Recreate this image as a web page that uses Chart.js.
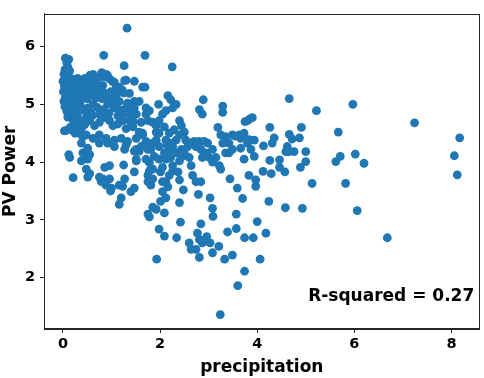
<!DOCTYPE html>
<html>
<head>
<meta charset="utf-8">
<script src="https://cdn.jsdelivr.net/npm/chart.js@4/dist/chart.umd.min.js"></script>
<style>
  html, body { margin: 0; padding: 0; background: #ffffff; }
  #wrap { width: 484px; height: 378px; }
</style>
</head>
<body>
<div id="wrap"><canvas id="c" width="484" height="378"></canvas></div>
<script>
const xTicks = [0, 2, 4, 6, 8];
const yTicks = [2, 3, 4, 5, 6];
const xTitle = 'precipitation';
const yTitle = 'PV Power';
const rSquaredLabel = 'R-squared = 0.27';

const precipitation = [
  1.32,0.84,1.69,1.26,2.25,4.66,5.97,5.22,7.24,8.17,
  8.06,8.12,5.67,5.71,5.62,6.02,6.20,5.82,6.06,6.68,
  5.13,4.93,4.58,4.91,5.00,5.00,4.89,4.87,4.66,4.72,
  4.62,4.59,4.76,4.65,4.46,4.46,4.57,4.26,4.35,4.31,
  4.13,4.26,4.29,4.12,4.24,4.18,4.06,4.00,3.74,3.60,
  3.24,3.49,3.92,3.74,3.57,3.57,3.70,3.59,3.44,3.39,
  3.33,3.08,3.21,3.03,3.08,3.09,3.03,2.96,2.87,2.84,
  2.77,2.81,2.74,2.81,2.60,2.64,2.79,2.84,2.74,2.67,
  2.64,2.40,2.42,2.34,2.09,1.98,1.93,1.78,1.75,1.85,
  1.92,2.09,2.01,2.12,2.05,2.16,2.12,2.05,2.40,2.48,
  2.37,2.26,2.19,2.01,1.85,1.81,1.75,1.85,1.78,1.71,
  1.51,1.47,1.40,1.47,1.27,1.23,1.16,1.20,1.16,1.25,
  0.96,0.86,0.96,0.89,0.82,0.79,0.75,0.55,0.51,0.48,
  0.38,0.41,0.51,0.55,0.51,0.21,0.14,0.12,0.38,0.41,
  0.07,0.03,0.75,0.92,1.06,1.27,1.30,1.47,1.51,1.57,
  0.98,1.00,
  0.05,0.12,0.08,0.10,0.04,0.14,0.02,0.09,0.16,0.00,
  0.06,0.12,0.20,0.03,0.10,0.18,0.25,0.01,0.07,0.14,
  0.22,0.05,0.12,0.20,0.28,0.02,0.09,0.17,0.24,0.04,
  0.12,0.20,0.28,0.08,0.16,0.25,0.10,0.20,0.30,0.15,
  0.22,0.32,0.30,0.35,0.32,0.38,0.35,0.40,0.30,0.38,
  0.45,
  0.55,0.62,0.70,0.80,0.85,0.92,1.02,0.50,0.45,1.10,
  1.22,1.30,1.47,1.64,1.69,1.37,1.47,1.57,1.33,1.47,
  1.30,1.51,1.71,1.78,1.71,1.75,1.61,1.85,1.92,1.57,
  1.64,1.44,1.37,1.30,1.23,1.13,1.06,1.16,1.10,0.99,
  0.89,0.92,0.82,0.75,0.86,0.96,1.03,1.13,0.75,0.65,
  0.55,0.48,0.41,0.34,0.51,0.62,0.68,0.58,0.44,0.38,
  0.75,0.82,0.68,0.51,0.62,0.96,1.06,1.16,1.27,0.89,
  0.75,0.34,0.48,0.62,0.75,0.89,1.06,1.20,1.33,1.51,
  1.64,1.71,1.25,1.00,0.70,0.58,1.40,1.20,0.95,0.45,
  0.30,0.40,0.50,0.55,0.65,0.70,0.80,0.85,0.95,1.05,
  1.15,1.25,1.35,1.40,1.45,1.20,0.60,0.50,0.25,0.20,
  1.97,2.16,2.22,2.33,2.26,2.12,2.05,1.98,2.09,2.19,
  2.29,2.40,2.44,2.50,2.40,2.33,2.26,2.19,2.09,1.98,
  1.92,1.85,1.81,1.88,1.98,2.12,2.22,2.33,2.44,2.46,
  2.40,2.26,2.05,1.98,1.92,2.12,2.22,2.53,2.64,2.57,
  2.50,2.60,1.78,1.75,1.61,1.75,1.51,2.14,
  2.81,2.87,2.89,3.29,3.29,3.19,3.25,3.35,3.49,3.63,
  3.73,3.80,3.90,3.83,3.94,3.80,3.66,3.42,3.29,3.42,
  3.35,3.22,3.25,3.08,3.01,2.94,2.84,2.74,2.70,2.81,
  2.91,2.98,3.08,3.15,2.87,3.73,3.87,3.94,3.83,3.97,
  3.97,3.66,3.49,3.85,3.75,3.55
];

const pvPower = [
  6.32,5.85,5.85,5.67,5.65,5.10,5.00,4.89,4.68,4.42,
  4.11,3.78,4.52,4.10,4.01,4.14,3.98,3.63,3.16,2.69,
  3.63,3.20,3.21,4.60,4.18,4.01,3.91,4.42,4.48,4.40,
  4.27,4.18,4.18,4.18,4.04,3.91,3.83,4.60,4.42,4.33,
  4.28,4.03,3.80,3.84,3.32,2.77,2.32,2.97,2.11,1.86,
  1.36,2.39,2.69,2.69,2.85,3.10,3.37,3.55,3.71,2.79,
  2.32,2.43,2.54,2.60,3.20,3.06,3.38,2.71,2.60,2.93,
  2.77,2.66,2.49,2.35,2.60,2.49,3.44,3.66,3.66,3.77,
  3.94,3.30,2.96,2.69,2.72,2.84,2.32,3.05,3.10,3.22,
  3.18,3.12,3.32,3.38,3.49,3.57,3.66,3.66,3.69,3.52,
  3.83,3.85,3.77,3.83,3.71,3.60,3.66,3.88,3.99,4.05,
  4.02,3.55,3.49,3.83,3.71,3.58,3.60,3.38,3.27,3.95,
  3.94,3.91,3.71,3.60,3.71,3.66,3.74,3.80,3.74,3.88,
  4.02,4.16,4.05,4.13,4.24,3.73,4.08,4.13,4.33,4.44,
  4.55,4.54,4.33,4.33,4.27,4.22,4.30,4.19,4.05,4.19,
  3.50,3.55,
  5.80,5.78,5.72,5.65,5.60,5.58,5.52,5.50,5.45,5.40,
  5.42,5.36,5.40,5.32,5.28,5.30,5.35,5.22,5.18,5.20,
  5.22,5.12,5.10,5.12,5.15,5.05,5.02,5.05,5.02,4.96,
  4.95,4.92,4.98,4.88,4.85,4.88,4.78,4.75,4.80,4.60,
  4.68,4.72,5.45,5.38,5.25,5.10,5.00,4.90,4.62,4.58,
  4.65,
  5.50,5.52,5.45,5.55,5.48,5.50,5.40,5.40,5.45,5.30,
  5.25,5.42,5.40,5.30,5.30,5.19,5.05,5.05,5.02,4.94,
  4.94,4.83,4.94,4.89,4.83,4.72,4.69,4.69,4.63,4.52,
  4.50,4.61,4.72,4.58,4.72,4.80,4.94,5.05,5.16,5.22,
  5.11,5.00,4.91,4.83,4.77,4.72,4.63,4.66,4.69,4.63,
  4.72,4.77,4.69,4.61,4.94,5.00,5.11,5.16,5.22,5.08,
  5.22,5.33,5.36,5.33,5.44,5.44,5.38,5.30,5.41,5.52,
  5.47,4.50,4.47,4.41,4.47,4.41,4.38,4.41,4.36,4.41,
  4.47,4.36,5.20,5.05,4.95,4.85,4.80,4.90,4.85,5.30,
  5.30,5.20,5.10,5.25,5.30,5.20,5.10,5.20,5.10,5.00,
  4.90,4.85,4.85,4.95,4.70,4.75,4.80,4.85,4.50,4.55,
  5.00,5.15,5.08,5.00,4.94,4.89,4.83,4.72,4.61,4.50,
  4.56,4.72,4.63,4.52,4.47,4.38,4.27,4.22,4.16,4.27,
  4.38,4.33,4.22,4.10,4.05,4.05,4.08,4.16,4.22,4.10,
  4.02,3.94,3.91,4.50,4.52,4.38,4.33,4.38,4.33,4.27,
  4.16,4.08,3.85,3.77,4.27,4.22,4.22,4.30,
  4.91,4.83,5.08,4.97,4.86,4.60,4.47,4.44,4.47,4.47,
  4.50,4.72,4.77,4.39,4.38,4.33,4.41,4.33,4.33,4.16,
  4.16,3.94,3.88,4.00,4.08,4.16,4.22,4.27,4.36,4.36,
  4.36,4.33,4.22,4.08,4.08,4.05,4.22,4.10,3.77,3.69,
  3.58,4.24,4.22,4.75,4.70,4.45
];

const points = precipitation.map((x, i) => ({ x: x, y: pvPower[i] }));

const FONT = 'DejaVu Sans';
const AXIS_COLOR = '#262626';

const framePlugin = {
  id: 'frame',
  afterDraw(chart) {
    const a = chart.chartArea;
    const ctx = chart.ctx;
    ctx.save();
    ctx.strokeStyle = AXIS_COLOR;
    ctx.lineWidth = 1;
    ctx.strokeRect(Math.round(a.left) + 0.5, Math.round(a.top) + 0.5,
                   Math.round(a.right - a.left) - 1, Math.round(a.bottom - a.top) - 1);
    ctx.restore();
  }
};

const annotationPlugin = {
  id: 'rsq',
  afterDraw(chart) {
    const xs = chart.scales.x, ys = chart.scales.y;
    const ctx = chart.ctx;
    ctx.save();
    ctx.font = 'bold 17px "' + FONT + '"';
    ctx.fillStyle = '#000';
    ctx.textAlign = 'right';
    ctx.textBaseline = 'middle';
    ctx.fillText(rSquaredLabel, xs.getPixelForValue(8.47), ys.getPixelForValue(1.67));
    ctx.restore();
  }
};

new Chart(document.getElementById('c'), {
  type: 'scatter',
  data: {
    datasets: [{
      data: points,
      backgroundColor: '#1f77b4',
      borderWidth: 0,
      pointRadius: 4.4,
      pointHoverRadius: 4.4
    }]
  },
  options: {
    responsive: false,
    animation: false,
    devicePixelRatio: 1,
    layout: { padding: { top: 3, right: 3, left: 0, bottom: 0 } },
    plugins: { legend: { display: false }, tooltip: { enabled: false } },
    scales: {
      x: {
        type: 'linear',
        min: -0.39,
        max: 8.58,
        afterBuildTicks(scale) { scale.ticks = xTicks.map(v => ({ value: v })); },
        afterFit(scale) { scale.height = 49; },
        ticks: { color: '#000', font: { family: FONT, size: 14.5, weight: 'bold' }, padding: 3, maxRotation: 0 },
        grid: { display: true, drawOnChartArea: false, drawTicks: true, tickLength: 4, color: AXIS_COLOR },
        border: { display: true, color: AXIS_COLOR },
        title: { display: true, text: xTitle, color: '#000', font: { family: FONT, size: 17, weight: 'bold' }, padding: { top: 0, bottom: 0 } }
      },
      y: {
        type: 'linear',
        min: 1.11,
        max: 6.57,
        afterBuildTicks(scale) { scale.ticks = yTicks.map(v => ({ value: v })); },
        afterFit(scale) { scale.width = 44; },
        ticks: { color: '#000', font: { family: FONT, size: 14.5, weight: 'bold' }, padding: 5 },
        grid: { display: true, drawOnChartArea: false, drawTicks: true, tickLength: 4, color: AXIS_COLOR },
        border: { display: true, color: AXIS_COLOR },
        title: { display: true, text: yTitle, color: '#000', font: { family: FONT, size: 17, weight: 'bold' }, padding: { top: 0, bottom: 0 } }
      }
    }
  },
  plugins: [framePlugin, annotationPlugin]
});
</script>
</body>
</html>
